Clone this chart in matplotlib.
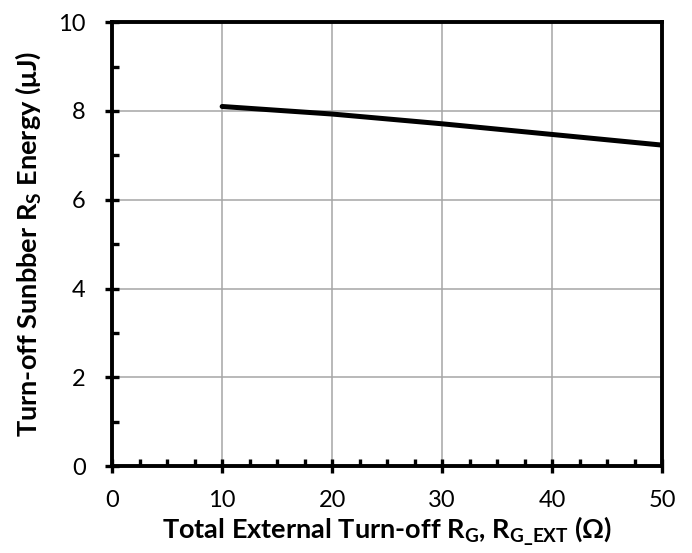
import matplotlib
matplotlib.use("Agg")
import matplotlib.pyplot as plt
from matplotlib.ticker import MultipleLocator

plt.rcParams['font.family'] = ['Lato', 'DejaVu Sans']
plt.rcParams['mathtext.fontset'] = 'custom'
plt.rcParams['mathtext.rm'] = 'Lato:bold'
plt.rcParams['mathtext.it'] = 'Lato:bold'
plt.rcParams['mathtext.bf'] = 'Lato:bold'

# snubber energy vs external gate resistance
rg_ohm = [10, 20, 30, 40, 50]
energy_uj = [8.10, 7.93, 7.71, 7.47, 7.23]

fig = plt.figure(figsize=(6.92, 5.53), dpi=100)
ax = fig.add_axes([0.162, 0.157, 0.795, 0.803])

ax.plot(rg_ohm, energy_uj, color='black', lw=3.6, solid_capstyle='round')

ax.set_xlim(0, 50)
ax.set_ylim(0, 10)
ax.xaxis.set_major_locator(MultipleLocator(10))
ax.xaxis.set_minor_locator(MultipleLocator(2.5))
ax.yaxis.set_major_locator(MultipleLocator(2))
ax.yaxis.set_minor_locator(MultipleLocator(1))
ax.grid(True, which='major', color='#a6a6a6', lw=1.1)
ax.set_axisbelow(True)

for s in ax.spines.values():
    s.set_linewidth(2.8)
ax.tick_params(which='major', direction='inout', length=10, width=2.4,
               labelsize=17)
ax.tick_params(axis='x', which='major', pad=12)
ax.tick_params(axis='y', which='major', pad=14)
ax.tick_params(which='minor', direction='in', length=5, width=2.4)

ax.set_xlabel(r'Total External Turn-off R$_\mathregular{G}$, R$_\mathregular{G\_EXT}$ ($\Omega$)',
              fontsize=19.5, fontweight='bold', labelpad=3)
ax.set_ylabel(r'Turn-off Sunbber R$_\mathregular{S}$ Energy ($\mu$J)',
              fontsize=19.5, fontweight='bold', labelpad=11)

fig.savefig('out.png', dpi=100)
